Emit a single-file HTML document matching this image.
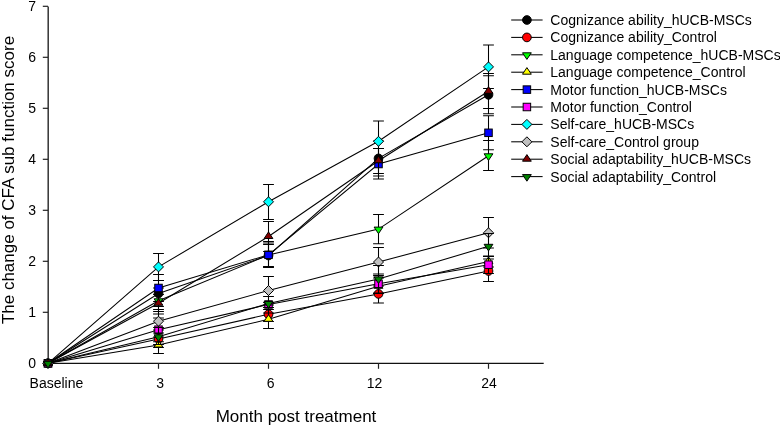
<!DOCTYPE html>
<html><head><meta charset="utf-8"><style>
html,body{margin:0;padding:0;background:#fff;}
svg{display:block;will-change:transform;}
text{font-family:"Liberation Sans",Arial,sans-serif;fill:#000;}
.t{font-size:14px;}
.l{font-size:14px;}
.a{font-size:17px;}
</style></head><body>
<svg width="780" height="426" viewBox="0 0 780 426">
<line x1="48.2" y1="6.4" x2="48.2" y2="364" stroke="#333" stroke-width="1.5"/>
<line x1="48" y1="363.3" x2="543.7" y2="363.3" stroke="#111" stroke-width="1.3"/>
<line x1="42.8" y1="363.3" x2="48" y2="363.3" stroke="#222" stroke-width="1.2"/>
<text x="36.0" y="368.3" text-anchor="end" class="t">0</text>
<line x1="42.8" y1="312.3" x2="48" y2="312.3" stroke="#222" stroke-width="1.2"/>
<text x="36.0" y="317.3" text-anchor="end" class="t">1</text>
<line x1="42.8" y1="261.3" x2="48" y2="261.3" stroke="#222" stroke-width="1.2"/>
<text x="36.0" y="266.3" text-anchor="end" class="t">2</text>
<line x1="42.8" y1="210.3" x2="48" y2="210.3" stroke="#222" stroke-width="1.2"/>
<text x="36.0" y="215.3" text-anchor="end" class="t">3</text>
<line x1="42.8" y1="159.3" x2="48" y2="159.3" stroke="#222" stroke-width="1.2"/>
<text x="36.0" y="164.3" text-anchor="end" class="t">4</text>
<line x1="42.8" y1="108.3" x2="48" y2="108.3" stroke="#222" stroke-width="1.2"/>
<text x="36.0" y="113.3" text-anchor="end" class="t">5</text>
<line x1="42.8" y1="57.3" x2="48" y2="57.3" stroke="#222" stroke-width="1.2"/>
<text x="36.0" y="62.3" text-anchor="end" class="t">6</text>
<line x1="42.8" y1="6.3" x2="48" y2="6.3" stroke="#222" stroke-width="1.2"/>
<text x="36.0" y="11.3" text-anchor="end" class="t">7</text>
<line x1="158.5" y1="363.3" x2="158.5" y2="368.8" stroke="#222" stroke-width="1.2"/>
<line x1="268.5" y1="363.3" x2="268.5" y2="368.8" stroke="#222" stroke-width="1.2"/>
<line x1="378.5" y1="363.3" x2="378.5" y2="368.8" stroke="#222" stroke-width="1.2"/>
<line x1="488.5" y1="363.3" x2="488.5" y2="368.8" stroke="#222" stroke-width="1.2"/>
<text x="56.4" y="388.2" text-anchor="middle" class="t">Baseline</text>
<text x="160.2" y="388.2" text-anchor="middle" class="t">3</text>
<text x="270.7" y="388.2" text-anchor="middle" class="t">6</text>
<text x="374.6" y="388.2" text-anchor="middle" class="t">12</text>
<text x="489" y="388.2" text-anchor="middle" class="t">24</text>
<polyline points="48,363.3 158.5,293.5 268.5,255.5 378.5,158.4 488.5,94.8" fill="none" stroke="#000" stroke-width="1.05"/>
<path d="M158.5,280.5V306.5M153.1,280.5H163.9M153.1,306.5H163.9" fill="none" stroke="#000" stroke-width="1.05"/>
<path d="M268.5,241.5V267.5M263.1,241.5H273.9M263.1,267.5H273.9" fill="none" stroke="#000" stroke-width="1.05"/>
<path d="M378.5,141.0V176.0M373.1,141.0H383.9M373.1,176.0H383.9" fill="none" stroke="#000" stroke-width="1.05"/>
<path d="M488.5,73.5V113.8M483.1,73.5H493.9M483.1,113.8H493.9" fill="none" stroke="#000" stroke-width="1.05"/>
<circle cx="48" cy="363.3" r="4.35" fill="#000000" stroke="#000" stroke-width="1"/>
<circle cx="158.5" cy="293.5" r="4.35" fill="#000000" stroke="#000" stroke-width="1"/>
<circle cx="268.5" cy="255.5" r="4.35" fill="#000000" stroke="#000" stroke-width="1"/>
<circle cx="378.5" cy="158.4" r="4.35" fill="#000000" stroke="#000" stroke-width="1"/>
<circle cx="488.5" cy="94.8" r="4.35" fill="#000000" stroke="#000" stroke-width="1"/>
<polyline points="48,363.3 158.5,338.9 268.5,314.3 378.5,293.9 488.5,271" fill="none" stroke="#000" stroke-width="1.05"/>
<path d="M158.5,330.0V347.5M153.1,330.0H163.9M153.1,347.5H163.9" fill="none" stroke="#000" stroke-width="1.05"/>
<path d="M268.5,307.5V321.5M263.1,307.5H273.9M263.1,321.5H273.9" fill="none" stroke="#000" stroke-width="1.05"/>
<path d="M378.5,286.0V303.0M373.1,286.0H383.9M373.1,303.0H383.9" fill="none" stroke="#000" stroke-width="1.05"/>
<path d="M488.5,259.0V281.5M483.1,259.0H493.9M483.1,281.5H493.9" fill="none" stroke="#000" stroke-width="1.05"/>
<circle cx="48" cy="363.3" r="4.35" fill="#ff0000" stroke="#000" stroke-width="1"/>
<circle cx="158.5" cy="338.9" r="4.35" fill="#ff0000" stroke="#000" stroke-width="1"/>
<circle cx="268.5" cy="314.3" r="4.35" fill="#ff0000" stroke="#000" stroke-width="1"/>
<circle cx="378.5" cy="293.9" r="4.35" fill="#ff0000" stroke="#000" stroke-width="1"/>
<circle cx="488.5" cy="271" r="4.35" fill="#ff0000" stroke="#000" stroke-width="1"/>
<polyline points="48,363.3 158.5,300.8 268.5,255 378.5,229.1 488.5,155.8" fill="none" stroke="#000" stroke-width="1.05"/>
<path d="M158.5,288.0V314.0M153.1,288.0H163.9M153.1,314.0H163.9" fill="none" stroke="#000" stroke-width="1.05"/>
<path d="M268.5,243.0V267.0M263.1,243.0H273.9M263.1,267.0H273.9" fill="none" stroke="#000" stroke-width="1.05"/>
<path d="M378.5,214.5V243.7M373.1,214.5H383.9M373.1,243.7H383.9" fill="none" stroke="#000" stroke-width="1.05"/>
<path d="M488.5,140.5V170.5M483.1,140.5H493.9M483.1,170.5H493.9" fill="none" stroke="#000" stroke-width="1.05"/>
<polygon points="48,367.90000000000003 52.4,361.3 43.6,361.3" fill="#00ff00" stroke="#000" stroke-width="1"/>
<polygon points="158.5,305.40000000000003 162.9,298.8 154.1,298.8" fill="#00ff00" stroke="#000" stroke-width="1"/>
<polygon points="268.5,259.6 272.9,253.0 264.1,253.0" fill="#00ff00" stroke="#000" stroke-width="1"/>
<polygon points="378.5,233.7 382.9,227.1 374.1,227.1" fill="#00ff00" stroke="#000" stroke-width="1"/>
<polygon points="488.5,160.4 492.9,153.8 484.1,153.8" fill="#00ff00" stroke="#000" stroke-width="1"/>
<polyline points="48,363.3 158.5,345 268.5,319.3 378.5,286.3 488.5,261.5" fill="none" stroke="#000" stroke-width="1.05"/>
<path d="M158.5,337.0V353.5M153.1,337.0H163.9M153.1,353.5H163.9" fill="none" stroke="#000" stroke-width="1.05"/>
<path d="M268.5,309.5V328.5M263.1,309.5H273.9M263.1,328.5H273.9" fill="none" stroke="#000" stroke-width="1.05"/>
<path d="M378.5,278.0V293.0M373.1,278.0H383.9M373.1,293.0H383.9" fill="none" stroke="#000" stroke-width="1.05"/>
<path d="M488.5,256.0V267.0M483.1,256.0H493.9M483.1,267.0H493.9" fill="none" stroke="#000" stroke-width="1.05"/>
<polygon points="48,358.7 52.4,365.3 43.6,365.3" fill="#ffff00" stroke="#000" stroke-width="1"/>
<polygon points="158.5,340.4 162.9,347.0 154.1,347.0" fill="#ffff00" stroke="#000" stroke-width="1"/>
<polygon points="268.5,314.7 272.9,321.3 264.1,321.3" fill="#ffff00" stroke="#000" stroke-width="1"/>
<polygon points="378.5,281.7 382.9,288.3 374.1,288.3" fill="#ffff00" stroke="#000" stroke-width="1"/>
<polygon points="488.5,256.9 492.9,263.5 484.1,263.5" fill="#ffff00" stroke="#000" stroke-width="1"/>
<polyline points="48,363.3 158.5,288 268.5,254.8 378.5,164 488.5,132.8" fill="none" stroke="#000" stroke-width="1.05"/>
<path d="M158.5,274.5V301.5M153.1,274.5H163.9M153.1,301.5H163.9" fill="none" stroke="#000" stroke-width="1.05"/>
<path d="M268.5,244.5V266.5M263.1,244.5H273.9M263.1,266.5H273.9" fill="none" stroke="#000" stroke-width="1.05"/>
<path d="M378.5,148.5V179.0M373.1,148.5H383.9M373.1,179.0H383.9" fill="none" stroke="#000" stroke-width="1.05"/>
<path d="M488.5,115.8V149.7M483.1,115.8H493.9M483.1,149.7H493.9" fill="none" stroke="#000" stroke-width="1.05"/>
<rect x="44.25" y="359.55" width="7.5" height="7.5" fill="#0000ff" stroke="#000" stroke-width="1"/>
<rect x="154.75" y="284.25" width="7.5" height="7.5" fill="#0000ff" stroke="#000" stroke-width="1"/>
<rect x="264.75" y="251.05" width="7.5" height="7.5" fill="#0000ff" stroke="#000" stroke-width="1"/>
<rect x="374.75" y="160.25" width="7.5" height="7.5" fill="#0000ff" stroke="#000" stroke-width="1"/>
<rect x="484.75" y="129.05" width="7.5" height="7.5" fill="#0000ff" stroke="#000" stroke-width="1"/>
<polyline points="48,363.3 158.5,329.7 268.5,304.5 378.5,283.8 488.5,264.7" fill="none" stroke="#000" stroke-width="1.05"/>
<path d="M158.5,318.0V341.7M153.1,318.0H163.9M153.1,341.7H163.9" fill="none" stroke="#000" stroke-width="1.05"/>
<path d="M268.5,296.5V313.0M263.1,296.5H273.9M263.1,313.0H273.9" fill="none" stroke="#000" stroke-width="1.05"/>
<path d="M378.5,274.0V293.5M373.1,274.0H383.9M373.1,293.5H383.9" fill="none" stroke="#000" stroke-width="1.05"/>
<path d="M488.5,256.5V273.5M483.1,256.5H493.9M483.1,273.5H493.9" fill="none" stroke="#000" stroke-width="1.05"/>
<rect x="44.25" y="359.55" width="7.5" height="7.5" fill="#ff00ff" stroke="#000" stroke-width="1"/>
<rect x="154.75" y="325.95" width="7.5" height="7.5" fill="#ff00ff" stroke="#000" stroke-width="1"/>
<rect x="264.75" y="300.75" width="7.5" height="7.5" fill="#ff00ff" stroke="#000" stroke-width="1"/>
<rect x="374.75" y="280.05" width="7.5" height="7.5" fill="#ff00ff" stroke="#000" stroke-width="1"/>
<rect x="484.75" y="260.95" width="7.5" height="7.5" fill="#ff00ff" stroke="#000" stroke-width="1"/>
<polyline points="48,363.3 158.5,266.9 268.5,201.8 378.5,141.3 488.5,66.9" fill="none" stroke="#000" stroke-width="1.05"/>
<path d="M158.5,253.5V280.5M153.1,253.5H163.9M153.1,280.5H163.9" fill="none" stroke="#000" stroke-width="1.05"/>
<path d="M268.5,184.5V219.5M263.1,184.5H273.9M263.1,219.5H273.9" fill="none" stroke="#000" stroke-width="1.05"/>
<path d="M378.5,121.0V162.5M373.1,121.0H383.9M373.1,162.5H383.9" fill="none" stroke="#000" stroke-width="1.05"/>
<path d="M488.5,45.0V88.5M483.1,45.0H493.9M483.1,88.5H493.9" fill="none" stroke="#000" stroke-width="1.05"/>
<polygon points="48,358.3 53.0,363.3 48,368.3 43.0,363.3" fill="#00ffff" stroke="#000" stroke-width="1"/>
<polygon points="158.5,261.9 163.5,266.9 158.5,271.9 153.5,266.9" fill="#00ffff" stroke="#000" stroke-width="1"/>
<polygon points="268.5,196.8 273.5,201.8 268.5,206.8 263.5,201.8" fill="#00ffff" stroke="#000" stroke-width="1"/>
<polygon points="378.5,136.3 383.5,141.3 378.5,146.3 373.5,141.3" fill="#00ffff" stroke="#000" stroke-width="1"/>
<polygon points="488.5,61.900000000000006 493.5,66.9 488.5,71.9 483.5,66.9" fill="#00ffff" stroke="#000" stroke-width="1"/>
<polyline points="48,363.3 158.5,321.2 268.5,290.5 378.5,262 488.5,232.8" fill="none" stroke="#000" stroke-width="1.05"/>
<path d="M158.5,309.5V333.0M153.1,309.5H163.9M153.1,333.0H163.9" fill="none" stroke="#000" stroke-width="1.05"/>
<path d="M268.5,276.5V305.0M263.1,276.5H273.9M263.1,305.0H273.9" fill="none" stroke="#000" stroke-width="1.05"/>
<path d="M378.5,247.5V275.6M373.1,247.5H383.9M373.1,275.6H383.9" fill="none" stroke="#000" stroke-width="1.05"/>
<path d="M488.5,217.5V248.0M483.1,217.5H493.9M483.1,248.0H493.9" fill="none" stroke="#000" stroke-width="1.05"/>
<polygon points="48,358.3 53.0,363.3 48,368.3 43.0,363.3" fill="#c0c0c0" stroke="#000" stroke-width="1"/>
<polygon points="158.5,316.2 163.5,321.2 158.5,326.2 153.5,321.2" fill="#c0c0c0" stroke="#000" stroke-width="1"/>
<polygon points="268.5,285.5 273.5,290.5 268.5,295.5 263.5,290.5" fill="#c0c0c0" stroke="#000" stroke-width="1"/>
<polygon points="378.5,257.0 383.5,262 378.5,267.0 373.5,262" fill="#c0c0c0" stroke="#000" stroke-width="1"/>
<polygon points="488.5,227.8 493.5,232.8 488.5,237.8 483.5,232.8" fill="#c0c0c0" stroke="#000" stroke-width="1"/>
<polyline points="48,363.3 158.5,303.3 268.5,236.5 378.5,160.8 488.5,91.3" fill="none" stroke="#000" stroke-width="1.05"/>
<path d="M158.5,294.5V311.5M153.1,294.5H163.9M153.1,311.5H163.9" fill="none" stroke="#000" stroke-width="1.05"/>
<path d="M268.5,221.5V251.5M263.1,221.5H273.9M263.1,251.5H273.9" fill="none" stroke="#000" stroke-width="1.05"/>
<path d="M378.5,148.5V173.5M373.1,148.5H383.9M373.1,173.5H383.9" fill="none" stroke="#000" stroke-width="1.05"/>
<path d="M488.5,75.8V108.5M483.1,75.8H493.9M483.1,108.5H493.9" fill="none" stroke="#000" stroke-width="1.05"/>
<polygon points="48,358.7 52.4,365.3 43.6,365.3" fill="#800000" stroke="#000" stroke-width="1"/>
<polygon points="158.5,298.7 162.9,305.3 154.1,305.3" fill="#800000" stroke="#000" stroke-width="1"/>
<polygon points="268.5,231.9 272.9,238.5 264.1,238.5" fill="#800000" stroke="#000" stroke-width="1"/>
<polygon points="378.5,156.20000000000002 382.9,162.8 374.1,162.8" fill="#800000" stroke="#000" stroke-width="1"/>
<polygon points="488.5,86.7 492.9,93.3 484.1,93.3" fill="#800000" stroke="#000" stroke-width="1"/>
<polyline points="48,363.3 158.5,336.8 268.5,303.5 378.5,278.9 488.5,246.3" fill="none" stroke="#000" stroke-width="1.05"/>
<path d="M158.5,327.5V344.5M153.1,327.5H163.9M153.1,344.5H163.9" fill="none" stroke="#000" stroke-width="1.05"/>
<path d="M268.5,302.5V307.5M263.1,302.5H273.9M263.1,307.5H273.9" fill="none" stroke="#000" stroke-width="1.05"/>
<path d="M378.5,265.5V293.5M373.1,265.5H383.9M373.1,293.5H383.9" fill="none" stroke="#000" stroke-width="1.05"/>
<path d="M488.5,233.5V256.5M483.1,233.5H493.9M483.1,256.5H493.9" fill="none" stroke="#000" stroke-width="1.05"/>
<polygon points="48,367.90000000000003 52.4,361.3 43.6,361.3" fill="#008000" stroke="#000" stroke-width="1"/>
<polygon points="158.5,341.40000000000003 162.9,334.8 154.1,334.8" fill="#008000" stroke="#000" stroke-width="1"/>
<polygon points="268.5,308.1 272.9,301.5 264.1,301.5" fill="#008000" stroke="#000" stroke-width="1"/>
<polygon points="378.5,283.5 382.9,276.9 374.1,276.9" fill="#008000" stroke="#000" stroke-width="1"/>
<polygon points="488.5,250.9 492.9,244.3 484.1,244.3" fill="#008000" stroke="#000" stroke-width="1"/>
<line x1="511.2" y1="20.0" x2="542.6" y2="20.0" stroke="#000" stroke-width="1.05"/>
<circle cx="526.9" cy="20.0" r="4.35" fill="#000000" stroke="#000" stroke-width="1"/>
<text x="550.3" y="25.0" class="l">Cognizance ability_hUCB-MSCs</text>
<line x1="511.2" y1="37.4" x2="542.6" y2="37.4" stroke="#000" stroke-width="1.05"/>
<circle cx="526.9" cy="37.4" r="4.35" fill="#ff0000" stroke="#000" stroke-width="1"/>
<text x="550.3" y="42.4" class="l">Cognizance ability_Control</text>
<line x1="511.2" y1="54.8" x2="542.6" y2="54.8" stroke="#000" stroke-width="1.05"/>
<polygon points="526.9,59.4 531.3,52.8 522.5,52.8" fill="#00ff00" stroke="#000" stroke-width="1"/>
<text x="550.3" y="59.8" class="l">Language competence_hUCB-MSCs</text>
<line x1="511.2" y1="72.2" x2="542.6" y2="72.2" stroke="#000" stroke-width="1.05"/>
<polygon points="526.9,67.60000000000001 531.3,74.2 522.5,74.2" fill="#ffff00" stroke="#000" stroke-width="1"/>
<text x="550.3" y="77.2" class="l">Language competence_Control</text>
<line x1="511.2" y1="89.6" x2="542.6" y2="89.6" stroke="#000" stroke-width="1.05"/>
<rect x="523.15" y="85.85" width="7.5" height="7.5" fill="#0000ff" stroke="#000" stroke-width="1"/>
<text x="550.3" y="94.6" class="l">Motor function_hUCB-MSCs</text>
<line x1="511.2" y1="107.0" x2="542.6" y2="107.0" stroke="#000" stroke-width="1.05"/>
<rect x="523.15" y="103.25" width="7.5" height="7.5" fill="#ff00ff" stroke="#000" stroke-width="1"/>
<text x="550.3" y="112.0" class="l">Motor function_Control</text>
<line x1="511.2" y1="124.4" x2="542.6" y2="124.4" stroke="#000" stroke-width="1.05"/>
<polygon points="526.9,119.4 531.9,124.4 526.9,129.4 521.9,124.4" fill="#00ffff" stroke="#000" stroke-width="1"/>
<text x="550.3" y="129.4" class="l">Self-care_hUCB-MSCs</text>
<line x1="511.2" y1="141.8" x2="542.6" y2="141.8" stroke="#000" stroke-width="1.05"/>
<polygon points="526.9,136.8 531.9,141.8 526.9,146.8 521.9,141.8" fill="#c0c0c0" stroke="#000" stroke-width="1"/>
<text x="550.3" y="146.8" class="l">Self-care_Control group</text>
<line x1="511.2" y1="159.2" x2="542.6" y2="159.2" stroke="#000" stroke-width="1.05"/>
<polygon points="526.9,154.6 531.3,161.2 522.5,161.2" fill="#800000" stroke="#000" stroke-width="1"/>
<text x="550.3" y="164.2" class="l">Social adaptability_hUCB-MSCs</text>
<line x1="511.2" y1="176.6" x2="542.6" y2="176.6" stroke="#000" stroke-width="1.05"/>
<polygon points="526.9,181.2 531.3,174.6 522.5,174.6" fill="#008000" stroke="#000" stroke-width="1"/>
<text x="550.3" y="181.6" class="l">Social adaptability_Control</text>
<text x="296" y="422.4" text-anchor="middle" class="a">Month post treatment</text>
<text transform="translate(13.7,180) rotate(-90)" text-anchor="middle" class="a">The change of CFA sub function score</text>
</svg>
</body></html>
